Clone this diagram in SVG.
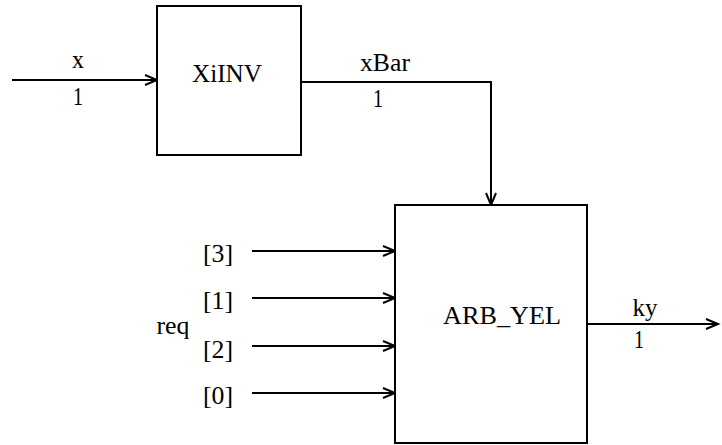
<svg xmlns="http://www.w3.org/2000/svg" width="722" height="445" viewBox="0 0 722 445">
<defs>
<marker id="arr" markerUnits="userSpaceOnUse" markerWidth="16" markerHeight="14" refX="13" refY="6" orient="auto">
<path d="M1,1 L13,6 L1,11" fill="none" stroke="#000" stroke-width="2"/>
</marker>
<style>
.box{fill:#fff;stroke:#000;stroke-width:2}
.w{fill:none;stroke:#000;stroke-width:2}
text{font-family:'Liberation Serif','DejaVu Serif','Times New Roman',serif;font-size:25px;fill:#000;text-anchor:middle}
</style>
</defs>
<rect width="722" height="445" fill="#fff"/>
<g id="connectors">
<path class="w" d="M12,80 H157" marker-end="url(#arr)"/>
<path class="w" d="M301,82 H491 V205" marker-end="url(#arr)"/>
<path class="w" d="M252,251 H395" marker-end="url(#arr)"/>
<path class="w" d="M252,298 H395" marker-end="url(#arr)"/>
<path class="w" d="M252,346 H395" marker-end="url(#arr)"/>
<path class="w" d="M252,393 H395" marker-end="url(#arr)"/>
<path class="w" d="M587,324 H718" marker-end="url(#arr)"/>
</g>
<g id="labels">
<text x="78" y="68" textLength="12" lengthAdjust="spacingAndGlyphs">x</text>
<text x="78" y="105" textLength="10" lengthAdjust="spacingAndGlyphs">1</text>
<text x="385" y="71" textLength="50" lengthAdjust="spacingAndGlyphs">xBar</text>
<text x="378" y="107" textLength="10" lengthAdjust="spacingAndGlyphs">1</text>
<text x="645" y="316" textLength="25" lengthAdjust="spacingAndGlyphs">ky</text>
<text x="639" y="348" textLength="10" lengthAdjust="spacingAndGlyphs">1</text>
<text x="218" y="262" textLength="30" lengthAdjust="spacingAndGlyphs">[3]</text>
<text x="218" y="309" textLength="30" lengthAdjust="spacingAndGlyphs">[1]</text>
<text x="173" y="334" textLength="33" lengthAdjust="spacingAndGlyphs">req</text>
<text x="218" y="358" textLength="30" lengthAdjust="spacingAndGlyphs">[2]</text>
<text x="218" y="404" textLength="30" lengthAdjust="spacingAndGlyphs">[0]</text>
</g>
<g id="XiINV">
<rect class="box" x="157" y="6" width="144" height="149"/>
<text x="227" y="82" textLength="70" lengthAdjust="spacingAndGlyphs">XiINV</text>
</g>
<g id="ARB_YEL">
<rect class="box" x="395" y="205" width="192" height="238"/>
<text x="502" y="324" textLength="118" lengthAdjust="spacingAndGlyphs">ARB_YEL</text>
</g>
</svg>
